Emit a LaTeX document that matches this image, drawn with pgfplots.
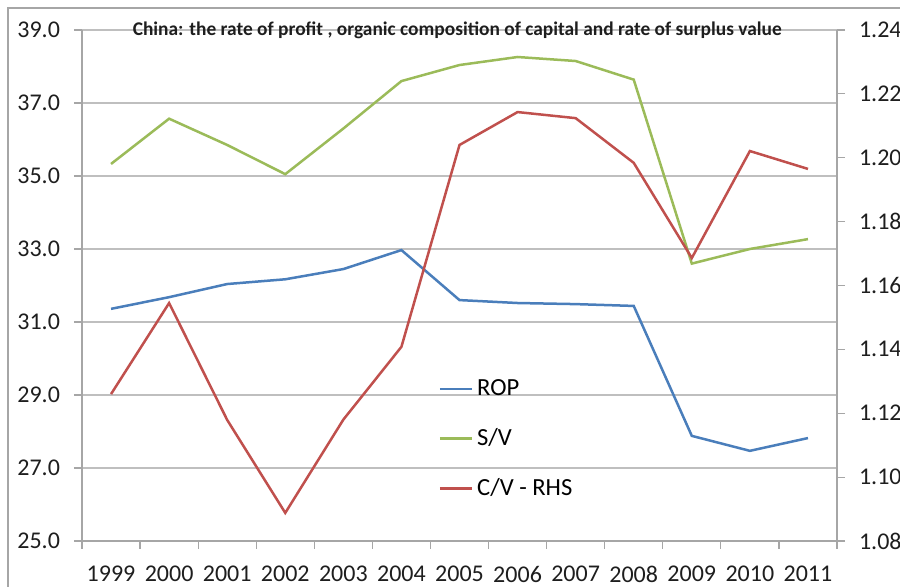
\documentclass[border=0pt]{standalone}
\usepackage{pgfplots}
\pgfplotsset{compat=1.18}
\usepackage{fontspec}
\setmainfont{Carlito}

\definecolor{rop}{RGB}{74,126,187}
\definecolor{sv}{RGB}{155,187,89}
\definecolor{cv}{RGB}{192,80,77}
\definecolor{gridc}{RGB}{191,191,191}
\definecolor{axc}{RGB}{166,166,166}
\definecolor{txt}{RGB}{30,30,30}

\begin{document}
\begin{tikzpicture}
% 1px = 0.5pt
\useasboundingbox (-41pt,-23pt) rectangle (409pt,270.5pt);
\draw[axc, line width=0.6pt] (-37pt,-60pt) rectangle (500pt,266.5pt);

\pgfplotsset{
  base/.style={
    scale only axis,
    width=377.5pt, height=255.5pt,
    xmin=-0.5, xmax=12.5,
    tick align=outside,
    major tick length=4pt,
    every tick/.style={axc, line width=0.6pt},
    tick label style={font=\fontsize{12}{13}\selectfont, text=txt},
    /pgf/number format/assume math mode=true,
    clip=false,
  }
}

\begin{axis}[
    base,
    ymin=25, ymax=39,
    ytick={25,27,...,39},
    axis y line*=left,
    axis x line*=bottom,
    axis line style={axc, line width=0.6pt, -},
    ymajorgrids=true,
    grid style={gridc, line width=0.6pt},
    yticklabel style={xshift=-3.5pt, /pgf/number format/fixed, /pgf/number format/fixed zerofill, /pgf/number format/precision=1},
    xtick={0,...,12},
    xticklabels={1999,2000,2001,2002,2003,2004,2005,2006,2007,2008,2009,2010,2011},
    major x tick style={draw=none},
    minor xtick={-0.5,0.5,...,12.5},
    minor tick length=4pt,
    xticklabel style={yshift=-5pt},
    legend style={at={(0.472,0.325)}, anchor=north west, draw=none, fill=none, inner sep=0pt,
      font=\fontsize{12.3}{13}\selectfont, row sep=11pt,
      /tikz/every odd column/.append style={column sep=0pt}},
    legend cell align=left,
    legend image code/.code={\draw[#1, line width=1.2pt] (0pt,0pt) -- (16pt,0pt);},
]
\addplot[rop, line width=1.25pt] coordinates {
  (0,31.36) (1,31.68) (2,32.04) (3,32.17) (4,32.45) (5,32.97) (6,31.60)
  (7,31.52) (8,31.49) (9,31.44) (10,27.88) (11,27.47) (12,27.82)
};
\addlegendentry{ROP}
\addplot[sv, line width=1.25pt] coordinates {
  (0,35.33) (1,36.57) (2,35.85) (3,35.05) (4,36.30) (5,37.60) (6,38.04)
  (7,38.26) (8,38.15) (9,37.64) (10,32.60) (11,33.00) (12,33.27)
};
\addlegendentry{S/V}
\addlegendimage{cv, line width=1.25pt}
\addlegendentry{C/V - RHS}
\node[font=\bfseries\fontsize{9.7}{11}\selectfont, text=txt] at (rel axis cs:0.497,1) {China: the rate of profit , organic composition of capital and rate of surplus value};
\end{axis}

\begin{axis}[
    base,
    ymin=1.08, ymax=1.24,
    ytick={1.08,1.10,...,1.241},
    axis y line*=right,
    axis x line=none,
    axis line style={axc, line width=0.6pt, -},
    yticklabel style={xshift=3.5pt, /pgf/number format/fixed, /pgf/number format/fixed zerofill, /pgf/number format/precision=2},
]
\addplot[cv, line width=1.25pt] coordinates {
  (0,1.1260) (1,1.1545) (2,1.1179) (3,1.0888) (4,1.1180) (5,1.1408) (6,1.2040)
  (7,1.2143) (8,1.2124) (9,1.1984) (10,1.1686) (11,1.2021) (12,1.1965)
};
\end{axis}
\end{tikzpicture}
\end{document}
